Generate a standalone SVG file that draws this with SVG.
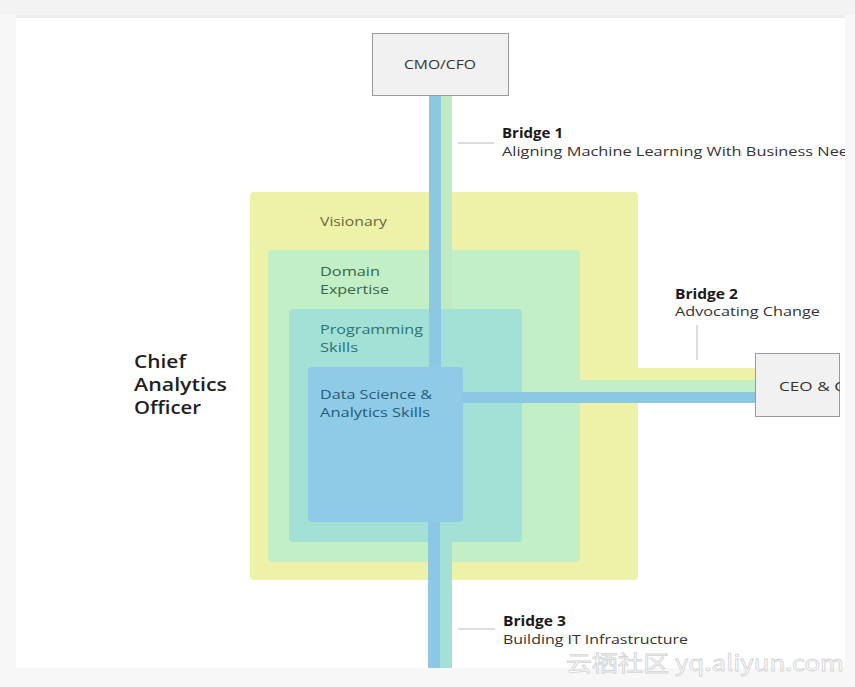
<svg xmlns="http://www.w3.org/2000/svg" width="855" height="687" viewBox="0 0 855 687">
<defs>
<style>
.t{font-family:"Open Sans","Noto Sans","DejaVu Sans",sans-serif;}
.lbl{font-size:13.5px;}
.b{font-size:13.5px;font-weight:700;fill:#1a1a1a;}
.d{font-size:13.5px;fill:#333;}
.cao{font-size:18.5px;font-weight:600;fill:#1f1f1f;}
.box{fill:#f1f1f1;stroke:#9a9a9a;stroke-width:1;}
</style>
<clipPath id="page"><rect x="16" y="18" width="829" height="650"/></clipPath>
<clipPath id="ceoclip"><rect x="750" y="340" width="90" height="90"/></clipPath>
</defs>
<rect width="855" height="687" fill="#f7f7f7"/>
<rect x="0" y="0" width="855" height="15" fill="#f3f3f3"/>
<rect x="16" y="15" width="829" height="3" fill="#ececec"/>
<rect x="16" y="18" width="829" height="650" fill="#ffffff"/>
<g clip-path="url(#page)">
<g id="visionary">
<rect x="250" y="192" width="388" height="388" rx="4" fill="#eef2a8"/>
<text class="t lbl" x="320" y="226" fill="#66683a" textLength="67" lengthAdjust="spacingAndGlyphs">Visionary</text>
</g>
<g id="domain-expertise">
<rect x="268" y="250" width="312" height="312" rx="4" fill="#c2efc6"/>
<text class="t lbl" x="320" y="276" fill="#3b6448" textLength="60" lengthAdjust="spacingAndGlyphs">Domain</text>
<text class="t lbl" x="320" y="294" fill="#3b6448" textLength="69" lengthAdjust="spacingAndGlyphs">Expertise</text>
</g>
<g id="programming-skills">
<rect x="289" y="309" width="233" height="233" rx="4" fill="#a3e0d6"/>
<text class="t lbl" x="320" y="334" fill="#2c7472" textLength="103" lengthAdjust="spacingAndGlyphs">Programming</text>
<text class="t lbl" x="320" y="352" fill="#2c7472" textLength="38" lengthAdjust="spacingAndGlyphs">Skills</text>
</g>
<g id="connectors">
<rect x="441" y="95" width="11" height="214" fill="#bfeac3"/>
<rect x="429" y="95" width="12" height="273" fill="#8cc8e4"/>
<rect x="638" y="368" width="117" height="12" fill="#eef2a8"/>
<rect x="522" y="380" width="233" height="12" fill="#c2efc6"/>
<rect x="463" y="392" width="292" height="11" fill="#8cc8e4"/>
<rect x="440" y="522" width="12" height="146" fill="#a3e0d6"/>
<rect x="428" y="522" width="12" height="146" fill="#8cc8e4"/>
<line x1="458" y1="143" x2="494" y2="143" stroke="#bbbbbb" stroke-width="1"/>
<line x1="697" y1="325" x2="697" y2="360" stroke="#bbbbbb" stroke-width="1"/>
<line x1="458" y1="629" x2="495" y2="629" stroke="#bbbbbb" stroke-width="1"/>
</g>
<g id="data-science">
<rect x="308" y="367" width="155" height="155" rx="4" fill="#8ecbe6"/>
<text class="t lbl" x="320" y="399" fill="#285b76" textLength="112" lengthAdjust="spacingAndGlyphs">Data Science &amp;</text>
<text class="t lbl" x="320" y="417" fill="#285b76" textLength="110" lengthAdjust="spacingAndGlyphs">Analytics Skills</text>
</g>
<g id="cmo-cfo">
<rect class="box" x="372.5" y="33.5" width="136" height="62"/>
<text class="t" x="404" y="69" font-size="13.5" fill="#333" textLength="72" lengthAdjust="spacingAndGlyphs">CMO/CFO</text>
</g>
<g id="ceo" clip-path="url(#ceoclip)">
<rect class="box" x="755.5" y="353.5" width="84" height="63"/>
<text class="t" x="779" y="391" font-size="13.5" fill="#333" textLength="66" lengthAdjust="spacingAndGlyphs">CEO &amp; C</text>
</g>
<g id="bridge1">
<text class="t b" x="502" y="138" textLength="61" lengthAdjust="spacingAndGlyphs">Bridge 1</text>
<text class="t d" x="502" y="156" textLength="346" lengthAdjust="spacingAndGlyphs">Aligning Machine Learning With Business Nee</text>
</g>
<g id="bridge2">
<text class="t b" x="675" y="299" textLength="63" lengthAdjust="spacingAndGlyphs">Bridge 2</text>
<text class="t d" x="675" y="316" textLength="145" lengthAdjust="spacingAndGlyphs">Advocating Change</text>
</g>
<g id="bridge3">
<text class="t b" x="503" y="626" textLength="63" lengthAdjust="spacingAndGlyphs">Bridge 3</text>
<text class="t d" x="503" y="643.5" textLength="185" lengthAdjust="spacingAndGlyphs">Building IT Infrastructure</text>
</g>
<g id="cao">
<text class="t cao" x="134" y="368" textLength="52" lengthAdjust="spacingAndGlyphs">Chief</text>
<text class="t cao" x="134" y="391" textLength="93" lengthAdjust="spacingAndGlyphs">Analytics</text>
<text class="t cao" x="134" y="414" textLength="67" lengthAdjust="spacingAndGlyphs">Officer</text>
</g>
</g>
<text x="566" y="671" font-family="'Noto Sans CJK SC','Liberation Sans',sans-serif" font-size="22" fill="#ffffff" stroke="#d4d4d4" stroke-width="0.8" textLength="278" lengthAdjust="spacingAndGlyphs">云栖社区 yq.aliyun.com</text>
</svg>
